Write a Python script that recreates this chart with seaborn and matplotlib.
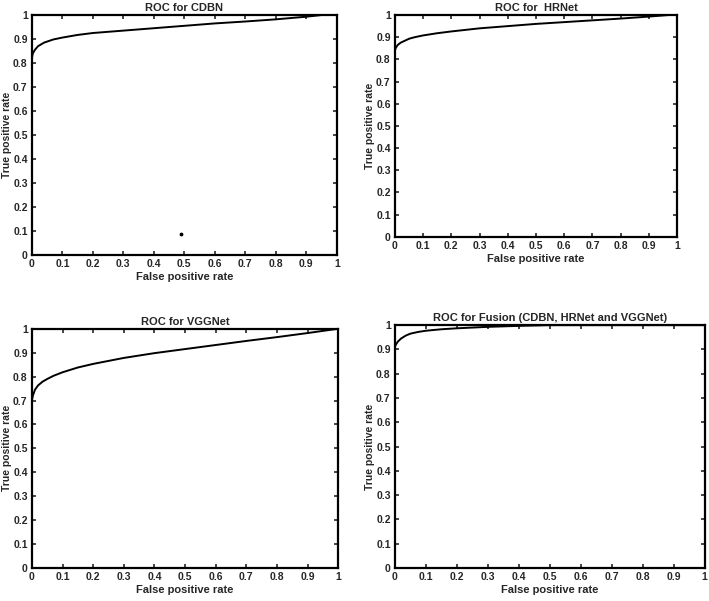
import numpy as np
import pandas as pd
import matplotlib
matplotlib.use("Agg")
import matplotlib.pyplot as plt
import seaborn as sns

# ROC points
cdbn_fpr = [0, 0.003, 0.01, 0.02, 0.04, 0.07, 0.1, 0.15, 0.2, 0.3, 0.4, 0.5, 0.6, 0.7, 0.8, 0.9, 0.95, 1.0]
cdbn_tpr = [0.82, 0.84, 0.855, 0.87, 0.885, 0.898, 0.906, 0.917, 0.925, 0.935, 0.945, 0.955, 0.965, 0.973, 0.982, 0.993, 1.0, 1.0]

hrnet_fpr = [0, 0.003, 0.01, 0.02, 0.05, 0.07, 0.1, 0.15, 0.2, 0.3, 0.4, 0.5, 0.6, 0.7, 0.8, 0.9, 0.97, 1.0]
hrnet_tpr = [0.84, 0.852, 0.865, 0.875, 0.893, 0.9, 0.908, 0.918, 0.926, 0.94, 0.95, 0.96, 0.968, 0.976, 0.984, 0.993, 1.0, 1.0]

vgg_fpr = [0, 0.003, 0.01, 0.02, 0.035, 0.05, 0.07, 0.1, 0.15, 0.2, 0.3, 0.4, 0.5, 0.6, 0.7, 0.8, 0.9, 1.0]
vgg_tpr = [0.70, 0.72, 0.745, 0.763, 0.779, 0.79, 0.803, 0.818, 0.838, 0.853, 0.878, 0.898, 0.915, 0.932, 0.949, 0.965, 0.982, 1.0]

fusion_fpr = [0, 0.003, 0.01, 0.02, 0.035, 0.05, 0.075, 0.1, 0.15, 0.2, 0.3, 0.4, 0.5, 1.0]
fusion_tpr = [0.91, 0.92, 0.933, 0.945, 0.957, 0.965, 0.972, 0.977, 0.983, 0.987, 0.993, 0.997, 1.0, 1.0]

# stray dot visible in the CDBN panel
cdbn_dot_x = [0.49]
cdbn_dot_y = [0.085]

ticks = np.round(np.arange(0, 1.01, 0.1), 1)
tick_labels = ["0", "0.1", "0.2", "0.3", "0.4", "0.5", "0.6", "0.7", "0.8", "0.9", "1"]

sns.set_style("ticks")
plt.rcParams['font.family'] = ['Liberation Sans', 'DejaVu Sans']

fig = plt.figure(figsize=(7.09, 6.01), dpi=100)

panels = [
    ("ROC for CDBN", cdbn_fpr, cdbn_tpr, [0.045, 0.576, 0.430, 0.399]),
    ("ROC for  HRNet", hrnet_fpr, hrnet_tpr, [0.557, 0.606, 0.398, 0.369]),
    ("ROC for VGGNet", vgg_fpr, vgg_tpr, [0.045, 0.055, 0.432, 0.398]),
    ("ROC for Fusion (CDBN, HRNet and VGGNet)", fusion_fpr, fusion_tpr, [0.557, 0.055, 0.437, 0.404]),
]

for i, (title, fpr, tpr, pos) in enumerate(panels):
    ax = fig.add_axes(pos)
    df = pd.DataFrame({"fpr": fpr, "tpr": tpr})
    sns.lineplot(data=df, x="fpr", y="tpr", ax=ax, color="black", linewidth=1.4)
    if i == 0:
        ax.scatter(cdbn_dot_x, cdbn_dot_y, s=3, color="black")
    ax.set_xlim(0, 1)
    ax.set_ylim(0, 1)
    ax.set_xticks(ticks)
    ax.set_yticks(ticks)
    ax.set_xticklabels(tick_labels, fontsize=7.5, fontweight="bold")
    ax.set_yticklabels(tick_labels, fontsize=7.5, fontweight="bold")
    ax.tick_params(direction="in", length=3, width=1.2, top=True, right=True, pad=3)
    for sp in ax.spines.values():
        sp.set_visible(True)
        sp.set_linewidth(1.6)
        sp.set_color("black")
    ax.set_xlabel("False positive rate", fontsize=8, fontweight="bold", labelpad=2)
    ax.set_ylabel("True positive rate", fontsize=7.5, fontweight="bold", labelpad=1)
    ax.set_title(title, fontsize=8, fontweight="bold", pad=3)

plt.savefig("out.png", dpi=100)
